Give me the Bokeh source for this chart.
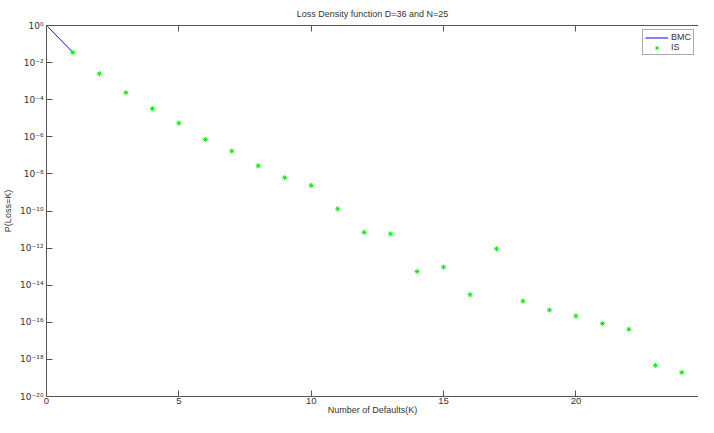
from bokeh.plotting import figure
from bokeh.models import FixedTicker, LinearAxis, Range1d, Legend, LegendItem
from bokeh.embed import file_html
from bokeh.resources import INLINE

# Data
bmc_k = [0, 1]
bmc_p = [1.0, 3.5e-2]

is_k = list(range(0, 25))
is_p = [1.0, 3.5e-2, 2.5e-3, 2.4e-4, 3.3e-5, 5.5e-6, 7.1e-7, 1.7e-7, 2.7e-8,
        6.2e-9, 2.4e-9, 1.3e-10, 7.1e-12, 5.8e-12, 5.5e-14, 9.5e-14, 3.1e-15,
        9.1e-13, 1.4e-15, 4.6e-16, 2.2e-16, 8.5e-17, 4.2e-17, 4.8e-19, 2.0e-19]

x_ticks = [0, 5, 10, 15, 20]
y_ticks = [1e0, 1e-2, 1e-4, 1e-6, 1e-8, 1e-10, 1e-12, 1e-14, 1e-16, 1e-18, 1e-20]
y_tick_labels = ["10⁰", "10⁻²", "10⁻⁴", "10⁻⁶", "10⁻⁸", "10⁻¹⁰", "10⁻¹²",
                 "10⁻¹⁴", "10⁻¹⁶", "10⁻¹⁸", "10⁻²⁰"]

FONT = "Liberation Sans"
AX = "#555555"
TXT = "#333333"

p = figure(width=698, height=417, y_axis_type="log",
           x_range=Range1d(0, 24.63), y_range=Range1d(1e-20, 1.0),
           output_backend="svg", toolbar_location=None,
           title="Loss Density function D=36 and N=25")
p.min_border = 0
p.min_border_left = 38
p.min_border_top = 0
p.min_border_right = 0
p.min_border_bottom = 0

p.background_fill_color = "white"
p.border_fill_color = "white"
p.outline_line_color = None
p.grid.visible = False

p.title.align = "center"
p.title.text_font = FONT
p.title.text_font_size = "9px"
p.title.text_font_style = "normal"
p.title.text_color = TXT
p.title.offset = 5
p.title.standoff = 13

l_bmc = p.line(bmc_k, bmc_p, line_color="#0000ff", line_width=1)
l_is = p.scatter(is_k, is_p, marker="asterisk", size=5, line_color="#00ee00",
                 line_width=1)

# axes
p.xaxis.ticker = FixedTicker(ticks=x_ticks)
p.yaxis.ticker = FixedTicker(ticks=y_ticks)
p.yaxis.major_label_overrides = {t: s for t, s in zip(y_ticks, y_tick_labels)}

for ax in (p.xaxis[0], p.yaxis[0]):
    ax.axis_line_color = AX
    ax.major_tick_line_color = AX
    ax.major_tick_in = 6
    ax.major_tick_out = 0
    ax.minor_tick_line_color = None
    ax.major_label_text_font = FONT
    ax.major_label_text_font_size = "9.5px"
    ax.major_label_text_color = TXT
    ax.axis_label_text_font = FONT
    ax.axis_label_text_font_size = "9px"
    ax.axis_label_text_font_style = "normal"
    ax.axis_label_text_color = TXT
    ax.major_label_standoff = 1
    ax.axis_label_standoff = 0

p.xaxis.axis_label_standoff = -2
p.yaxis.major_label_text_font = "DejaVu Sans"
p.yaxis.major_label_text_font_size = "9px"
p.yaxis.major_label_standoff = 3
p.xaxis.axis_label = "Number of Defaults(K)"
p.yaxis.axis_label = "P(Loss=K)"
p.yaxis.axis_label_standoff = 4

top = LinearAxis(ticker=FixedTicker(ticks=x_ticks))
top.axis_line_color = AX
top.major_tick_line_color = AX
top.major_tick_in = 6
top.major_tick_out = 0
top.minor_tick_line_color = None
top.major_label_overrides = {t: "" for t in x_ticks}
top.major_label_standoff = 0
p.add_layout(top, "above")

legend = Legend(items=[LegendItem(label="BMC", renderers=[l_bmc]),
                       LegendItem(label="IS", renderers=[l_is])],
                location="top_right")
legend.margin = 4
legend.padding = 2
legend.spacing = 0
legend.glyph_width = 23
legend.glyph_height = 9
legend.label_height = 9
legend.label_width = 14
legend.label_standoff = 3
legend.label_text_font = FONT
legend.label_text_font_size = "9px"
legend.label_text_color = TXT
legend.border_line_color = AX
legend.border_line_width = 1
legend.background_fill_color = "white"
legend.background_fill_alpha = 1
p.add_layout(legend)

open("out.html", "w").write(file_html(p, INLINE))
